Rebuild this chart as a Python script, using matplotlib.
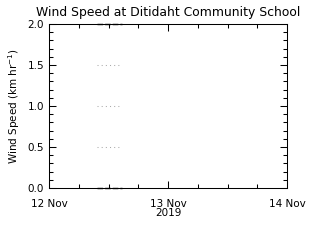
import numpy as np
import matplotlib
matplotlib.use("Agg")
import matplotlib.pyplot as plt
import matplotlib.dates as mdates
from datetime import datetime

# data
obs_times = [datetime(2019, 11, 12, 9, 40), datetime(2019, 11, 12, 14, 45)]
wind_low = [0.0, 0.0]        # dashed along the bottom
wind_high = [2.0, 2.0]       # dashed along the top (clipped)
ref_levels = [0.5, 1.0, 1.5]  # grey dotted levels
x_start = datetime(2019, 11, 12)
x_end = datetime(2019, 11, 14)
y_ticks = [0.0, 0.5, 1.0, 1.5, 2.0]

plt.rcParams['font.family'] = ['DejaVu Sans']
fig = plt.figure(figsize=(3.2, 2.4), dpi=100)
ax = fig.add_axes([49 / 320, 1 - 188 / 240, (287 - 49) / 320, (188 - 24) / 240])

lw = 0.75
for lev in ref_levels:
    ax.plot(obs_times, [lev, lev], ls=(0, (1, 3)), color='#aaaaaa', lw=lw)
for vals in (wind_low, wind_high):
    ax.plot(obs_times, vals, ls=(0, (4, 1.5)), color='black', lw=1.0,
            clip_on=False, zorder=4)

ax.set_xlim(x_start, x_end)
ax.set_ylim(0, 2)
ax.set_yticks(y_ticks)
ax.set_yticklabels(['%.1f' % v for v in y_ticks])
ax.yaxis.set_minor_locator(plt.MultipleLocator(0.1))
ax.xaxis.set_major_locator(mdates.DayLocator())
ax.xaxis.set_major_formatter(mdates.DateFormatter('%d %b'))
ax.xaxis.set_minor_locator(mdates.HourLocator(byhour=[6, 12, 18]))

for s in ax.spines.values():
    s.set_linewidth(lw)
ax.tick_params(which='both', direction='in', top=True, right=True, width=lw, labelsize=7.5)
ax.tick_params(which='major', length=5)
ax.tick_params(which='minor', length=3)
ax.tick_params(axis='x', pad=8)

ax.set_title('Wind Speed at Ditidaht Community School', fontsize=8.9, pad=6)
ax.set_ylabel('Wind Speed (km hr$^{-1}$)', fontsize=7.5, labelpad=4)
ax.set_xlabel('2019', fontsize=7.5, labelpad=-1)

fig.savefig('out.png', dpi=100)
